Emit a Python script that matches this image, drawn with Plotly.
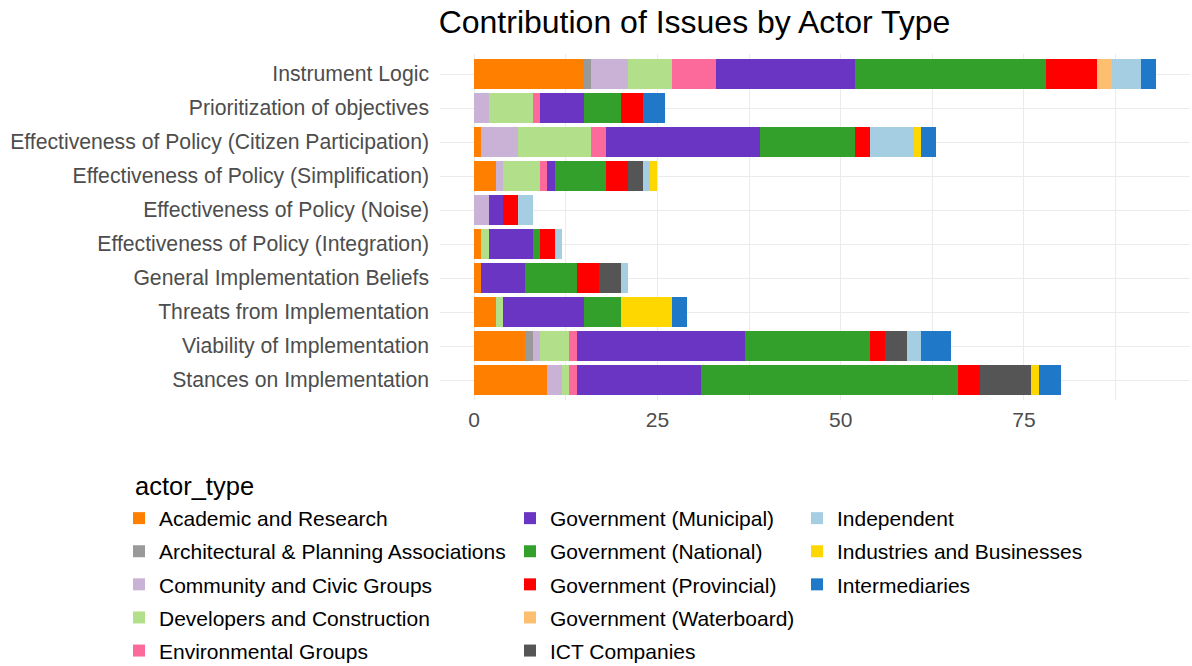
import plotly.graph_objects as go

W, H = 1192, 666

issues = [
    "Instrument Logic",
    "Prioritization of objectives",
    "Effectiveness of Policy (Citizen Participation)",
    "Effectiveness of Policy (Simplification)",
    "Effectiveness of Policy (Noise)",
    "Effectiveness of Policy (Integration)",
    "General Implementation Beliefs",
    "Threats from Implementation",
    "Viability of Implementation",
    "Stances on Implementation",
]

actor_types = [
    "Academic and Research",
    "Architectural & Planning Associations",
    "Community and Civic Groups",
    "Developers and Construction",
    "Environmental Groups",
    "Government (Municipal)",
    "Government (National)",
    "Government (Provincial)",
    "Government (Waterboard)",
    "ICT Companies",
    "Independent",
    "Industries and Businesses",
    "Intermediaries",
]

# counts per actor type, in the order of `issues`
academic = [15, 0, 1, 3, 0, 1, 1, 3, 7, 10]
architectural = [1, 0, 0, 0, 0, 0, 0, 0, 1, 0]
community = [5, 2, 5, 1, 2, 0, 0, 0, 1, 2]
developers = [6, 6, 10, 5, 0, 1, 0, 1, 4, 1]
environmental = [6, 1, 2, 1, 0, 0, 0, 0, 1, 1]
gov_municipal = [19, 6, 21, 1, 2, 6, 6, 11, 23, 17]
gov_national = [26, 5, 13, 7, 0, 1, 7, 5, 17, 35]
gov_provincial = [7, 3, 2, 3, 2, 2, 3, 0, 2, 3]
gov_waterboard = [2, 0, 0, 0, 0, 0, 0, 0, 0, 0]
ict = [0, 0, 0, 2, 0, 0, 3, 0, 3, 7]
independent = [4, 0, 6, 1, 2, 1, 1, 0, 2, 0]
industries = [0, 0, 1, 1, 0, 0, 0, 7, 0, 1]
intermediaries = [2, 3, 2, 0, 0, 0, 0, 2, 4, 3]

series = [academic, architectural, community, developers, environmental,
          gov_municipal, gov_national, gov_provincial, gov_waterboard, ict,
          independent, industries, intermediaries]

colors = ["#FF7F00", "#999999", "#CAB2D6", "#B2DF8A", "#FB6A9A",
          "#6A35C2", "#33A02C", "#FF0000", "#FDBF6F", "#555555",
          "#A6CEE3", "#FFD700", "#1F78C8"]

legend_ids = ["legend"] * 5 + ["legend2"] * 5 + ["legend3"] * 3

fig = go.Figure()
for name, vals, col, lg in zip(actor_types, series, colors, legend_ids):
    fig.add_trace(go.Bar(
        y=issues, x=vals, name=name, orientation="h",
        marker=dict(color=col, line=dict(width=0)),
        legend=lg, legendgroup=name,
    ))

FONT = "Liberation Sans, Arial, sans-serif"

# panel geometry in pixels
px_left, px_right = 440, 1190
px_top, px_bottom = 53.6, 400.4

legend_font = dict(family=FONT, size=21, color="#000000")
legend_top_px = 498

def leg(xpx):
    return dict(
        x=xpx / W, xanchor="left", y=1 - legend_top_px / H, yanchor="top",
        orientation="v", traceorder="grouped", tracegroupgap=2.8,
        font=legend_font, bgcolor="rgba(0,0,0,0)", borderwidth=0,
    )

fig.update_layout(
    width=W, height=H,
    barmode="stack", bargap=0.1,
    template="none",
    paper_bgcolor="white", plot_bgcolor="white",
    margin=dict(l=0, r=0, t=0, b=0, autoexpand=False),
    font=dict(family=FONT, size=21, color="#4D4D4D"),
    title=dict(text="Contribution of Issues by Actor Type",
               x=694.5 / W, xanchor="center", xref="container",
               y=1 - 22 / H, yanchor="middle", yref="container",
               font=dict(family=FONT, size=32, color="#000000")),
    xaxis=dict(
        domain=[px_left / W, px_right / W],
        range=[-4.65, 97.65], tick0=0, dtick=25,
        showgrid=True, gridcolor="#EBEBEB", gridwidth=1.1,
        minor=dict(dtick=12.5, tick0=0, showgrid=True, gridcolor="#EBEBEB", gridwidth=0.6),
        zeroline=False, showline=False, ticks="",
        tickfont=dict(family=FONT, size=21, color="#4D4D4D"),
        ticklabelstandoff=5, automargin=False,
    ),
    yaxis=dict(
        domain=[1 - px_bottom / H, 1 - px_top / H],
        categoryorder="array", categoryarray=issues,
        range=[9.6, -0.6],
        showgrid=True, gridcolor="#EBEBEB", gridwidth=1.1,
        zeroline=False, showline=False, ticks="",
        tickfont=dict(family=FONT, size=21.2, color="#4D4D4D"),
        ticklabelstandoff=10, automargin=False,
    ),
    legend=leg(119),
    legend2=leg(510),
    legend3=leg(797),
    annotations=[dict(
        text="actor_type", x=133 / W, y=1 - 486 / H, xref="paper", yref="paper",
        xanchor="left", yanchor="middle", showarrow=False,
        font=dict(family=FONT, size=25.5, color="#000000"),
    )],
)

fig.write_html("out.html", config={"displayModeBar": False},
               post_script="document.body.style.margin='0';")
